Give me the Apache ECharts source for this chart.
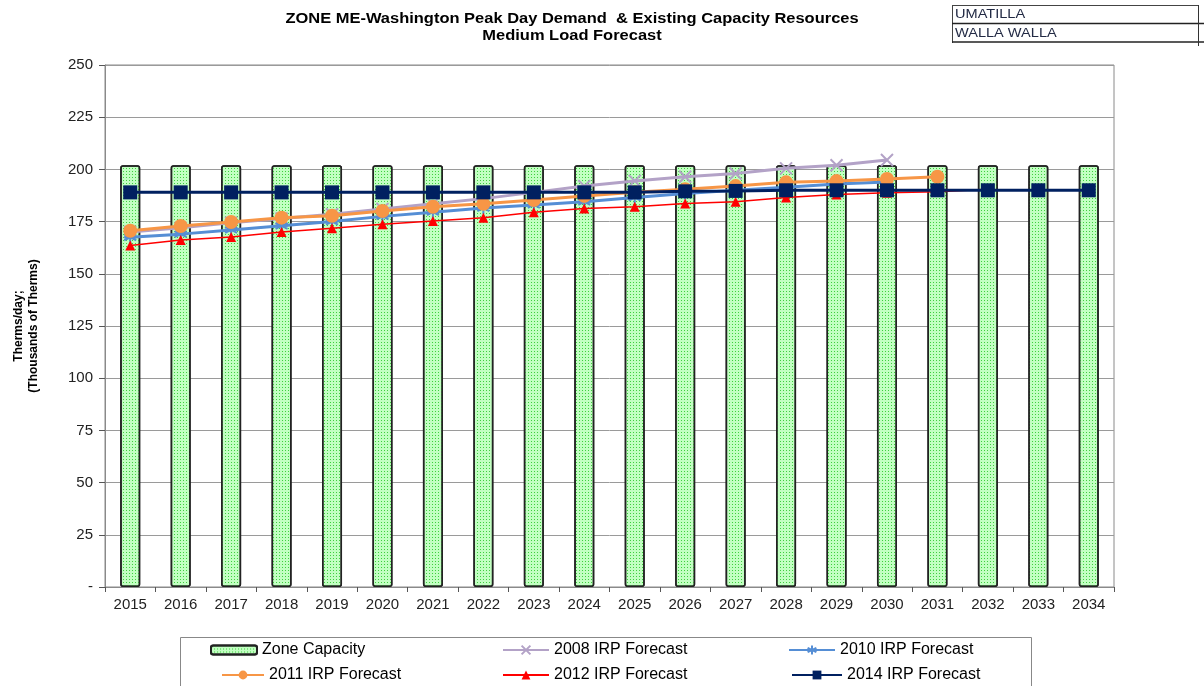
<!DOCTYPE html>
<html>
<head>
<meta charset="utf-8">
<script src="https://cdn.jsdelivr.net/npm/echarts@6/dist/echarts.min.js"></script>
<style>
html,body{margin:0;padding:0;background:#fff;}
#chart{width:1204px;height:686px;}
</style>
</head>
<body>
<div id="chart"></div>
<script>
var years = ['2015','2016','2017','2018','2019','2020','2021','2022','2023','2024','2025','2026','2027','2028','2029','2030','2031','2032','2033','2034'];
var yTicks = [0,25,50,75,100,125,150,175,200,225,250];
var zoneCapacity = [202,202,202,202,202,202,202,202,202,202,202,202,202,202,202,202,202,202,202,202];
var irp2008 = [170,172,174.5,176.5,178.5,181,183.5,186,189,192,194.5,196.5,198,200.5,202,204.5];
var irp2010 = [167.5,169,171,173,175,177.5,179.5,181.5,183,184.5,186.5,188.5,190,191.5,193,194];
var irp2011 = [170.6,172.9,174.8,176.9,177.8,180.1,182.1,183.5,185.3,187.3,189,190.5,192,193.8,194.4,195.4,196.5];
var irp2012 = [163.6,166.2,167.6,170,171.8,173.7,175.3,176.9,179.5,181.3,182.1,183.7,184.5,186.5,188,188.8,189.3,190.5];
var irp2014 = [189,189,189,189,189,189,189,189,189,189,189,189.5,189.7,190,190,190,190,190,190,190];

var chart = echarts.init(document.getElementById('chart'));
var F = 'Arial, "Liberation Sans", sans-serif';
var xPath = 'path://M0,0L10,10M10,0L0,10';
var starPath = 'path://M5,0L5,10M0,2.5L10,7.5M10,2.5L0,7.5M0,5L10,5';

function lineSeries(name, data, color, width, symbol, size, z, hollow) {
  return {
    name: name, type: 'line', data: data, z: z,
    symbol: symbol, symbolSize: size,
    lineStyle: {color: color, width: width},
    itemStyle: hollow ? {color: 'rgba(0,0,0,0)', borderColor: color, borderWidth: 2} : {color: color, borderWidth: 0},
    emphasis: {disabled: true},
    animation: false
  };
}

function leg(name, left, top, w, h) {
  return {
    data: [name], left: left, top: top, itemWidth: w, itemHeight: h, itemGap: 0,
    padding: 0, selectedMode: false,
    textStyle: {fontFamily: F, fontSize: 16, color: '#000', padding: [0, 0, 0, 0]}
  };
}

var option = {
  backgroundColor: '#fff',
  animation: false,
  grid: {left: 105, right: 90, top: 65, bottom: 99, show: true, borderColor: '#8a8a8a', borderWidth: 1, backgroundColor: 'transparent'},
  xAxis: {
    type: 'category', data: years, boundaryGap: true,
    axisLine: {lineStyle: {color: '#8a8a8a', width: 1}},
    axisTick: {show: true, length: 5, lineStyle: {color: '#555'}},
    axisLabel: {fontFamily: F, fontSize: 15, color: '#222', margin: 10}
  },
  yAxis: {
    type: 'value', min: 0, max: 250, interval: 25,
    axisLine: {show: true, lineStyle: {color: '#8a8a8a', width: 1}},
    axisTick: {show: true, length: 6, lineStyle: {color: '#555'}},
    axisLabel: {fontFamily: F, fontSize: 15, color: '#222', margin: 12,
      formatter: function (v) { return yTicks.indexOf(v) === 0 ? '-' : String(v); }},
    splitLine: {show: true, lineStyle: {color: '#9a9a9a', width: 1}},
    name: 'Therms/day;\n(Thousands of Therms)',
    nameLocation: 'middle', nameGap: 64, nameRotate: 90,
    nameTextStyle: {fontFamily: F, fontSize: 12, fontWeight: 'bold', color: '#000', lineHeight: 15}
  },
  legend: [
    leg('Zone Capacity', 210, 642, 46, 9),
    leg('2008 IRP Forecast', 502, 642, 46, 11),
    leg('2010 IRP Forecast', 788, 642, 46, 11),
    leg('2011 IRP Forecast', 221, 667, 42, 11),
    leg('2012 IRP Forecast', 502, 667, 46, 11),
    leg('2014 IRP Forecast', 791, 667, 50, 11)
  ],
  series: [
    {
      name: 'Zone Capacity', type: 'bar', data: zoneCapacity, barWidth: 20, z: 1,
      itemStyle: {
        color: '#c2ffc2', borderColor: '#222', borderWidth: 1.5, borderRadius: 2,
        decal: {symbol: 'rect', symbolSize: 1, dashArrayX: [1, 2], dashArrayY: [1, 2], color: '#3fcf3f'}
      },
      emphasis: {disabled: true}
    },
    lineSeries('2008 IRP Forecast', irp2008, '#b3a2c7', 3, xPath, 12, 3, true),
    lineSeries('2010 IRP Forecast', irp2010, '#558ed5', 3, starPath, 12, 4, true),
    lineSeries('2011 IRP Forecast', irp2011, '#f79646', 3, 'circle', 14, 5, false),
    lineSeries('2012 IRP Forecast', irp2012, '#ff0000', 1.5, 'triangle', 10, 6, false),
    lineSeries('2014 IRP Forecast', irp2014, '#002060', 3, 'rect', 14, 7, false)
  ],
  graphic: [
    {type: 'text', x: 572, y: 19, scaleX: 1.22, scaleY: 1.05, style: {text: 'ZONE ME-Washington Peak Day Demand  & Existing Capacity Resources', font: 'bold 13.5px ' + F, fill: '#000', textAlign: 'center', textVerticalAlign: 'middle'}},
    {type: 'text', x: 572, y: 36, scaleX: 1.22, scaleY: 1.05, style: {text: 'Medium Load Forecast', font: 'bold 13.5px ' + F, fill: '#000', textAlign: 'center', textVerticalAlign: 'middle'}},
    {type: 'line', shape: {x1: 952, y1: 5.5, x2: 1198, y2: 5.5}, style: {stroke: '#444', lineWidth: 1}},
    {type: 'line', shape: {x1: 952.5, y1: 5, x2: 952.5, y2: 43}, style: {stroke: '#444', lineWidth: 1}},
    {type: 'line', shape: {x1: 952, y1: 23.5, x2: 1204, y2: 23.5}, style: {stroke: '#222', lineWidth: 1.5}},
    {type: 'line', shape: {x1: 952, y1: 42, x2: 1204, y2: 42}, style: {stroke: '#222', lineWidth: 1.5}},
    {type: 'line', shape: {x1: 1198.5, y1: 5, x2: 1198.5, y2: 46}, style: {stroke: '#333', lineWidth: 1}},
    {type: 'text', x: 955, y: 14.5, scaleX: 1.12, style: {text: 'UMATILLA', font: '13px ' + F, fill: '#222a44', textVerticalAlign: 'middle'}},
    {type: 'text', x: 955, y: 33, scaleX: 1.12, style: {text: 'WALLA WALLA', font: '13px ' + F, fill: '#222a44', textVerticalAlign: 'middle'}},
    {type: 'polyline', shape: {points: [[180.5, 690], [180.5, 637.5], [1031.5, 637.5], [1031.5, 690]]}, style: {fill: 'none', stroke: '#888', lineWidth: 1}}
  ]
};
chart.setOption(option);
</script>
</body>
</html>
